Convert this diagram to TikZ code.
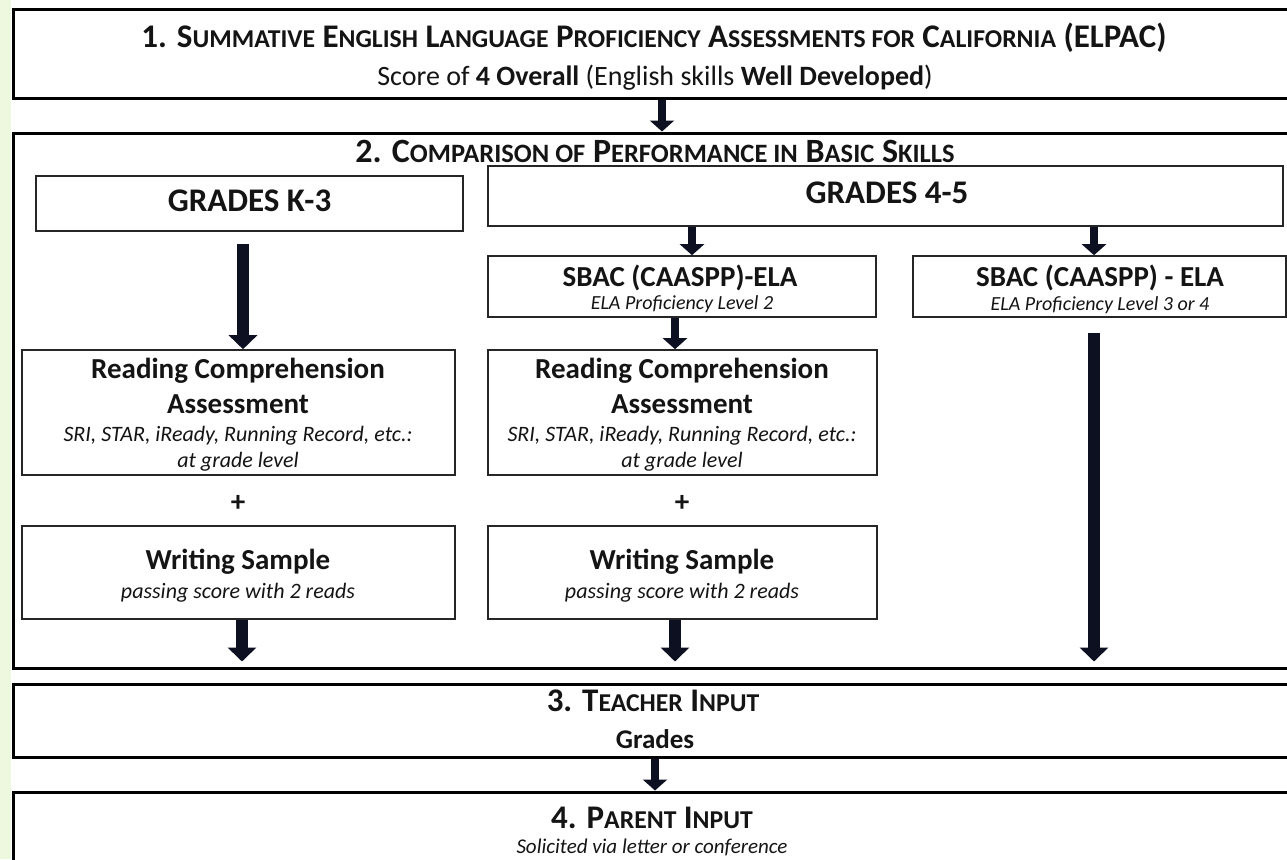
\documentclass[tikz,border=0pt]{standalone}
\usepackage{fontspec}
\setmainfont{Carlito}
\usetikzlibrary{arrows.meta}
\definecolor{stripgreen}{RGB}{238,248,222}
\definecolor{arrowcol}{RGB}{12,16,32}
\definecolor{textcol}{RGB}{20,20,20}
\newcommand\Lc[1]{{\fontsize{\lcs}{\lcs}\selectfont #1}}
\tikzset{
  outerbox/.style={draw=black, line width=3pt, rectangle, inner sep=0pt},
  innerbox/.style={draw=black!85, line width=1.6pt, rectangle, inner sep=0pt},
  lbl/.style={anchor=base, inner sep=0pt, text=textcol},
  sarrow/.style={draw=arrowcol, line width=8pt, -{Triangle[width=24pt,length=11pt]}},
  barrow/.style={draw=arrowcol, line width=12pt, -{Triangle[width=28pt,length=14pt]}},
  bold/.style={font=\bfseries\fontsize{#1}{#1}\selectfont},
  ital/.style={font=\itshape\fontsize{#1}{#1}\selectfont},
  reg/.style={font=\fontsize{#1}{#1}\selectfont}
}
\begin{document}
\begin{tikzpicture}[x=1pt,y=-1pt]
\useasboundingbox (0,0) rectangle (1287,859);
\clip (0,0) rectangle (1287,859);
\fill[white] (0,0) rectangle (1287,859);
\fill[stripgreen] (0,0) rectangle (11,859);

% outer boxes
\node[outerbox, minimum width=1297pt, minimum height=88pt] (b1) at (661.5,54) {};
\node[outerbox, minimum width=1297pt, minimum height=535pt] (b2) at (661.5,400.5) {};
\node[outerbox, minimum width=1297pt, minimum height=73pt] (b3) at (661.5,720.5) {};
\node[outerbox, minimum width=1297pt, minimum height=108pt] (b4) at (661.5,846) {};

% inner boxes
\node[innerbox, minimum width=427pt, minimum height=55pt] (k3) at (249.5,203.5) {};
\node[innerbox, minimum width=795pt, minimum height=60pt] (g45) at (885.5,196) {};
\node[innerbox, minimum width=388pt, minimum height=61pt] (sbacL) at (682,286.5) {};
\node[innerbox, minimum width=373pt, minimum height=61pt] (sbacR) at (1099.5,286.5) {};
\node[innerbox, minimum width=433pt, minimum height=125pt] (readL) at (238.5,412.5) {};
\node[innerbox, minimum width=389pt, minimum height=125pt] (readM) at (682.5,412.5) {};
\node[innerbox, minimum width=433pt, minimum height=93pt] (writeL) at (238.5,572.5) {};
\node[innerbox, minimum width=389pt, minimum height=93pt] (writeM) at (682.5,572.5) {};

% texts
\node[lbl, bold=33] (t1a) at (654,48) {\def\lcs{25.7}1. S\Lc{UMMATIVE} E\Lc{NGLISH} L\Lc{ANGUAGE} P\Lc{ROFICIENCY} A\Lc{SSESSMENTS FOR} C\Lc{ALIFORNIA} (ELPAC)};
\node[lbl, reg=28] (t1b) at (655,85) {Score of \textbf{4 Overall} (English skills \textbf{Well Developed})};
\node[lbl, bold=34] (t2) at (655,162) {\def\lcs{26.5}2. C\Lc{OMPARISON OF} P\Lc{ERFORMANCE IN} B\Lc{ASIC} S\Lc{KILLS}};
\node[lbl, bold=33] (tk3) at (249.5,211) {GRADES K-3};
\node[lbl, bold=33] (tg45) at (887,203) {GRADES 4-5};
\node[lbl, bold=29] (tsL) at (680,286) {SBAC (CAASPP)-ELA};
\node[lbl, ital=20] (tsLb) at (682,309) {ELA Proficiency Level 2};
\node[lbl, bold=29] (tsR) at (1100,286) {SBAC (CAASPP) - ELA};
\node[lbl, ital=20] (tsRb) at (1100,310) {ELA Proficiency Level 3 or 4};

\node[lbl, bold=29] (rL1) at (238,378) {Reading Comprehension};
\node[lbl, bold=29] (rL2) at (238,413) {Assessment};
\node[lbl, ital=22] (rL3) at (238,441) {SRI, STAR, iReady, Running Record, etc.:};
\node[lbl, ital=22] (rL4) at (238,467) {at grade level};
\node[lbl, bold=29] (rM1) at (682,378) {Reading Comprehension};
\node[lbl, bold=29] (rM2) at (682,413) {Assessment};
\node[lbl, ital=22] (rM3) at (682,441) {SRI, STAR, iReady, Running Record, etc.:};
\node[lbl, ital=22] (rM4) at (682,467) {at grade level};

\node[lbl, bold=29] (pL) at (238,511) {+};
\node[lbl, bold=29] (pM) at (682,511) {+};

\node[lbl, bold=29] (wL1) at (238,569) {Writing Sample};
\node[lbl, ital=22] (wL2) at (238,598) {passing score with 2 reads};
\node[lbl, bold=29] (wM1) at (682,569) {Writing Sample};
\node[lbl, ital=22] (wM2) at (682,598) {passing score with 2 reads};

\node[lbl, bold=33] (t3a) at (653,711) {\def\lcs{25.7}3. T\Lc{EACHER} I\Lc{NPUT}};
\node[lbl, bold=27] (t3b) at (655,748) {Grades};
\node[lbl, bold=33] (t4a) at (652,828) {\def\lcs{25.7}4. P\Lc{ARENT} I\Lc{NPUT}};
\node[lbl, ital=21] (t4b) at (652,853) {Solicited via letter or conference};

% arrow columns
\coordinate (c1) at (662,0);
\coordinate (cK) at (243,0);
\coordinate (cL) at (692,0);
\coordinate (cR) at (1094,0);
\coordinate (cM) at (675,0);
\coordinate (cW) at (242,0);
\coordinate (c3) at (655,0);

\draw[sarrow] (c1 |- b1.south) -- (c1 |- b2.north);
\draw[barrow] ([yshift=-12pt]cK |- k3.south) -- (cK |- readL.north);
\draw[sarrow] (cL |- g45.south) -- (cL |- sbacL.north);
\draw[sarrow] (cR |- g45.south) -- (cR |- sbacR.north);
\draw[sarrow] (cM |- sbacL.south) -- (cM |- readM.north);
\draw[barrow] ([yshift=-15pt]cR |- sbacR.south) -- ([yshift=8pt]cR |- b2.south);
\draw[barrow] (cW |- writeL.south) -- ([yshift=8pt]cW |- b2.south);
\draw[barrow] (cM |- writeM.south) -- ([yshift=8pt]cM |- b2.south);
\draw[sarrow] (c3 |- b3.south) -- (c3 |- b4.north);
\end{tikzpicture}
\end{document}
